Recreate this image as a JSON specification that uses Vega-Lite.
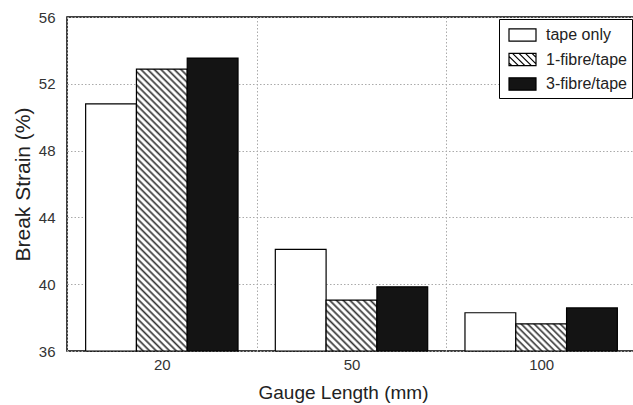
{
  "$schema": "https://vega.github.io/schema/vega-lite/v6.json",
  "width": 569,
  "height": 334,
  "autosize": {"type": "none"},
  "padding": {"left": 67, "top": 17, "right": 0, "bottom": 54},
  "config": {
    "font": "Liberation Sans",
    "view": {"stroke": "black", "strokeWidth": 1.5}
  },
  "data": {
    "values": [
      {"gauge": "20", "series": "tape only", "strain": 50.8},
      {"gauge": "20", "series": "1-fibre/tape", "strain": 52.88},
      {"gauge": "20", "series": "3-fibre/tape", "strain": 53.54},
      {"gauge": "50", "series": "tape only", "strain": 42.09},
      {"gauge": "50", "series": "1-fibre/tape", "strain": 39.05},
      {"gauge": "50", "series": "3-fibre/tape", "strain": 39.84},
      {"gauge": "100", "series": "tape only", "strain": 38.29},
      {"gauge": "100", "series": "1-fibre/tape", "strain": 37.63},
      {"gauge": "100", "series": "3-fibre/tape", "strain": 38.58}
    ]
  },
  "encoding": {
    "x": {
      "field": "gauge", "type": "nominal", "sort": ["20", "50", "100"],
      "scale": {"paddingInner": 0, "paddingOuter": 0},
      "axis": {
        "title": "Gauge Length (mm)", "titleFontSize": 19, "titleFontWeight": "normal", "titleColor": "#222", "titlePadding": 11,
        "titleX": 276, "titleAlign": "center",
        "labelAngle": 0, "labelFontSize": 15, "labelColor": "#333", "labelPadding": 6,
        "ticks": false, "domain": false, "tickBand": "extent",
        "grid": true, "gridColor": "#aaa", "gridDash": [1.5, 2], "gridWidth": 1
      }
    },
    "xOffset": {
      "field": "series", "type": "nominal",
      "scale": {"domain": ["tape only", "1-fibre/tape", "3-fibre/tape"], "paddingInner": 0, "paddingOuter": 0.367}
    },
    "y": {
      "field": "strain", "type": "quantitative",
      "scale": {"domain": [36, 56], "nice": false, "zero": false},
      "axis": {
        "title": "Break Strain (%)", "titleFontSize": 21, "titleFontWeight": "normal", "titleColor": "#222", "titlePadding": 5,
        "values": [36, 40, 44, 48, 52, 56], "labelFontSize": 15, "labelColor": "#333", "labelPadding": 12,
        "ticks": false, "domain": false,
        "grid": true, "gridColor": "#aaa", "gridDash": [1.5, 2], "gridWidth": 1
      }
    }
  },
  "layer": [
    {
      "mark": {"type": "bar", "stroke": "black", "strokeWidth": 1.2},
      "encoding": {
        "y2": {"datum": 36},
        "fill": {
          "field": "series", "type": "nominal",
          "scale": {"domain": ["tape only", "1-fibre/tape", "3-fibre/tape"], "range": ["#ffffff", "#ffffff", "#141414"]},
          "condition": [
            {
              "test": "datum.gauge === '20' && datum.series === '1-fibre/tape'",
              "value": {
                "gradient": "linear", "x1": 0, "y1": 1, "x2": 0.206, "y2": -0.1431,
                "stops": [
                  {"offset":0,"color":"#333"},{"offset":0.007,"color":"#fff"},{"offset":0.013,"color":"#fff"},
                  {"offset":0.02,"color":"#333"},{"offset":0.027,"color":"#fff"},{"offset":0.033,"color":"#fff"},
                  {"offset":0.04,"color":"#333"},{"offset":0.047,"color":"#fff"},{"offset":0.053,"color":"#fff"},
                  {"offset":0.06,"color":"#333"},{"offset":0.067,"color":"#fff"},{"offset":0.073,"color":"#fff"},
                  {"offset":0.08,"color":"#333"},{"offset":0.087,"color":"#fff"},{"offset":0.093,"color":"#fff"},
                  {"offset":0.1,"color":"#333"},{"offset":0.107,"color":"#fff"},{"offset":0.113,"color":"#fff"},
                  {"offset":0.12,"color":"#333"},{"offset":0.127,"color":"#fff"},{"offset":0.133,"color":"#fff"},
                  {"offset":0.14,"color":"#333"},{"offset":0.147,"color":"#fff"},{"offset":0.153,"color":"#fff"},
                  {"offset":0.16,"color":"#333"},{"offset":0.167,"color":"#fff"},{"offset":0.173,"color":"#fff"},
                  {"offset":0.18,"color":"#333"},{"offset":0.187,"color":"#fff"},{"offset":0.193,"color":"#fff"},
                  {"offset":0.2,"color":"#333"},{"offset":0.207,"color":"#fff"},{"offset":0.213,"color":"#fff"},
                  {"offset":0.22,"color":"#333"},{"offset":0.227,"color":"#fff"},{"offset":0.233,"color":"#fff"},
                  {"offset":0.24,"color":"#333"},{"offset":0.247,"color":"#fff"},{"offset":0.253,"color":"#fff"},
                  {"offset":0.26,"color":"#333"},{"offset":0.267,"color":"#fff"},{"offset":0.273,"color":"#fff"},
                  {"offset":0.28,"color":"#333"},{"offset":0.287,"color":"#fff"},{"offset":0.293,"color":"#fff"},
                  {"offset":0.3,"color":"#333"},{"offset":0.307,"color":"#fff"},{"offset":0.313,"color":"#fff"},
                  {"offset":0.32,"color":"#333"},{"offset":0.327,"color":"#fff"},{"offset":0.333,"color":"#fff"},
                  {"offset":0.34,"color":"#333"},{"offset":0.347,"color":"#fff"},{"offset":0.353,"color":"#fff"},
                  {"offset":0.36,"color":"#333"},{"offset":0.367,"color":"#fff"},{"offset":0.373,"color":"#fff"},
                  {"offset":0.38,"color":"#333"},{"offset":0.387,"color":"#fff"},{"offset":0.393,"color":"#fff"},
                  {"offset":0.4,"color":"#333"},{"offset":0.407,"color":"#fff"},{"offset":0.413,"color":"#fff"},
                  {"offset":0.42,"color":"#333"},{"offset":0.427,"color":"#fff"},{"offset":0.433,"color":"#fff"},
                  {"offset":0.44,"color":"#333"},{"offset":0.447,"color":"#fff"},{"offset":0.453,"color":"#fff"},
                  {"offset":0.46,"color":"#333"},{"offset":0.467,"color":"#fff"},{"offset":0.473,"color":"#fff"},
                  {"offset":0.48,"color":"#333"},{"offset":0.487,"color":"#fff"},{"offset":0.493,"color":"#fff"},
                  {"offset":0.5,"color":"#333"},{"offset":0.507,"color":"#fff"},{"offset":0.513,"color":"#fff"},
                  {"offset":0.52,"color":"#333"},{"offset":0.527,"color":"#fff"},{"offset":0.533,"color":"#fff"},
                  {"offset":0.54,"color":"#333"},{"offset":0.547,"color":"#fff"},{"offset":0.553,"color":"#fff"},
                  {"offset":0.56,"color":"#333"},{"offset":0.567,"color":"#fff"},{"offset":0.573,"color":"#fff"},
                  {"offset":0.58,"color":"#333"},{"offset":0.587,"color":"#fff"},{"offset":0.593,"color":"#fff"},
                  {"offset":0.6,"color":"#333"},{"offset":0.607,"color":"#fff"},{"offset":0.613,"color":"#fff"},
                  {"offset":0.62,"color":"#333"},{"offset":0.627,"color":"#fff"},{"offset":0.633,"color":"#fff"},
                  {"offset":0.64,"color":"#333"},{"offset":0.647,"color":"#fff"},{"offset":0.653,"color":"#fff"},
                  {"offset":0.66,"color":"#333"},{"offset":0.667,"color":"#fff"},{"offset":0.673,"color":"#fff"},
                  {"offset":0.68,"color":"#333"},{"offset":0.687,"color":"#fff"},{"offset":0.693,"color":"#fff"},
                  {"offset":0.7,"color":"#333"},{"offset":0.707,"color":"#fff"},{"offset":0.713,"color":"#fff"},
                  {"offset":0.72,"color":"#333"},{"offset":0.727,"color":"#fff"},{"offset":0.733,"color":"#fff"},
                  {"offset":0.74,"color":"#333"},{"offset":0.747,"color":"#fff"},{"offset":0.753,"color":"#fff"},
                  {"offset":0.76,"color":"#333"},{"offset":0.767,"color":"#fff"},{"offset":0.773,"color":"#fff"},
                  {"offset":0.78,"color":"#333"},{"offset":0.787,"color":"#fff"},{"offset":0.793,"color":"#fff"},
                  {"offset":0.8,"color":"#333"},{"offset":0.807,"color":"#fff"},{"offset":0.813,"color":"#fff"},
                  {"offset":0.82,"color":"#333"},{"offset":0.827,"color":"#fff"},{"offset":0.833,"color":"#fff"},
                  {"offset":0.84,"color":"#333"},{"offset":0.847,"color":"#fff"},{"offset":0.853,"color":"#fff"},
                  {"offset":0.86,"color":"#333"},{"offset":0.867,"color":"#fff"},{"offset":0.873,"color":"#fff"},
                  {"offset":0.88,"color":"#333"},{"offset":0.887,"color":"#fff"},{"offset":0.893,"color":"#fff"},
                  {"offset":0.9,"color":"#333"},{"offset":0.907,"color":"#fff"},{"offset":0.913,"color":"#fff"},
                  {"offset":0.92,"color":"#333"},{"offset":0.927,"color":"#fff"},{"offset":0.933,"color":"#fff"},
                  {"offset":0.94,"color":"#333"},{"offset":0.947,"color":"#fff"},{"offset":0.953,"color":"#fff"},
                  {"offset":0.96,"color":"#333"},{"offset":0.967,"color":"#fff"},{"offset":0.973,"color":"#fff"},
                  {"offset":0.98,"color":"#333"},{"offset":0.987,"color":"#fff"},{"offset":0.993,"color":"#fff"},
                  {"offset":1,"color":"#333"}
                ]
              }
            },
            {
              "test": "datum.gauge === '50' && datum.series === '1-fibre/tape'",
              "value": {
                "gradient": "linear", "x1": 0, "y1": 1, "x2": 0.999, "y2": -0.001,
                "stops": [
                  {"offset":0,"color":"#333"},{"offset":0.0233,"color":"#fff"},{"offset":0.0433,"color":"#fff"},
                  {"offset":0.0667,"color":"#333"},{"offset":0.09,"color":"#fff"},{"offset":0.11,"color":"#fff"},
                  {"offset":0.1333,"color":"#333"},{"offset":0.1567,"color":"#fff"},{"offset":0.1767,"color":"#fff"},
                  {"offset":0.2,"color":"#333"},{"offset":0.2233,"color":"#fff"},{"offset":0.2433,"color":"#fff"},
                  {"offset":0.2667,"color":"#333"},{"offset":0.29,"color":"#fff"},{"offset":0.31,"color":"#fff"},
                  {"offset":0.3333,"color":"#333"},{"offset":0.3567,"color":"#fff"},{"offset":0.3767,"color":"#fff"},
                  {"offset":0.4,"color":"#333"},{"offset":0.4233,"color":"#fff"},{"offset":0.4433,"color":"#fff"},
                  {"offset":0.4667,"color":"#333"},{"offset":0.49,"color":"#fff"},{"offset":0.51,"color":"#fff"},
                  {"offset":0.5333,"color":"#333"},{"offset":0.5567,"color":"#fff"},{"offset":0.5767,"color":"#fff"},
                  {"offset":0.6,"color":"#333"},{"offset":0.6233,"color":"#fff"},{"offset":0.6433,"color":"#fff"},
                  {"offset":0.6667,"color":"#333"},{"offset":0.69,"color":"#fff"},{"offset":0.71,"color":"#fff"},
                  {"offset":0.7333,"color":"#333"},{"offset":0.7567,"color":"#fff"},{"offset":0.7767,"color":"#fff"},
                  {"offset":0.8,"color":"#333"},{"offset":0.8233,"color":"#fff"},{"offset":0.8433,"color":"#fff"},
                  {"offset":0.8667,"color":"#333"},{"offset":0.89,"color":"#fff"},{"offset":0.91,"color":"#fff"},
                  {"offset":0.9333,"color":"#333"},{"offset":0.9567,"color":"#fff"},{"offset":0.9767,"color":"#fff"},
                  {"offset":1,"color":"#333"}
                ]
              }
            },
            {
              "test": "datum.gauge === '100' && datum.series === '1-fibre/tape'",
              "value": {
                "gradient": "linear", "x1": 0, "y1": 1, "x2": 1.1933, "y2": 0.361,
                "stops": [
                  {"offset":0,"color":"#333"},{"offset":0.0292,"color":"#fff"},{"offset":0.0542,"color":"#fff"},
                  {"offset":0.0833,"color":"#333"},{"offset":0.1125,"color":"#fff"},{"offset":0.1375,"color":"#fff"},
                  {"offset":0.1667,"color":"#333"},{"offset":0.1958,"color":"#fff"},{"offset":0.2208,"color":"#fff"},
                  {"offset":0.25,"color":"#333"},{"offset":0.2792,"color":"#fff"},{"offset":0.3042,"color":"#fff"},
                  {"offset":0.3333,"color":"#333"},{"offset":0.3625,"color":"#fff"},{"offset":0.3875,"color":"#fff"},
                  {"offset":0.4167,"color":"#333"},{"offset":0.4458,"color":"#fff"},{"offset":0.4708,"color":"#fff"},
                  {"offset":0.5,"color":"#333"},{"offset":0.5292,"color":"#fff"},{"offset":0.5542,"color":"#fff"},
                  {"offset":0.5833,"color":"#333"},{"offset":0.6125,"color":"#fff"},{"offset":0.6375,"color":"#fff"},
                  {"offset":0.6667,"color":"#333"},{"offset":0.6958,"color":"#fff"},{"offset":0.7208,"color":"#fff"},
                  {"offset":0.75,"color":"#333"},{"offset":0.7792,"color":"#fff"},{"offset":0.8042,"color":"#fff"},
                  {"offset":0.8333,"color":"#333"},{"offset":0.8625,"color":"#fff"},{"offset":0.8875,"color":"#fff"},
                  {"offset":0.9167,"color":"#333"},{"offset":0.9458,"color":"#fff"},{"offset":0.9708,"color":"#fff"},
                  {"offset":1,"color":"#333"}
                ]
              }
            }
          ],
          "legend": {
            "orient": "none", "legendX": 432, "legendY": 2, "title": null,
            "symbolSize": 400,
            "symbolStrokeColor": "black", "symbolStrokeWidth": 1.2, "symbolOpacity": 1,
            "labelFontSize": 16, "labelColor": "#222", "labelOffset": 20,
            "padding": 5, "rowPadding": 4.5,
            "strokeColor": "black", "fillColor": "white"
          }
        }
      }
    },
    {
      "mark": {"type": "point", "opacity": 0, "size": 400},
      "encoding": {
        "shape": {
          "field": "series", "type": "nominal",
          "scale": {
            "domain": ["tape only", "1-fibre/tape", "3-fibre/tape"],
            "range": [
              "M-0.6,-0.62H2.1V0.62H-0.6Z",
              "M-0.6,-0.62H2.1V0.62H-0.6Z M-0.6,0.33L-0.31,0.62 M-0.6,-0.32L0.34,0.62 M-0.25,-0.62L0.99,0.62 M0.4,-0.62L1.64,0.62 M1.05,-0.62L2.1,0.43 M1.7,-0.62L2.1,-0.22",
              "M-0.6,-0.62H2.1V0.62H-0.6Z"
            ]
          },
          "legend": {
            "orient": "none", "legendX": 432, "legendY": 2, "title": null,
            "symbolSize": 400,
            "symbolStrokeColor": "black", "symbolStrokeWidth": 1.2, "symbolOpacity": 1,
            "labelFontSize": 16, "labelColor": "#222", "labelOffset": 20,
            "padding": 5, "rowPadding": 4.5,
            "strokeColor": "black", "fillColor": "white"
          }
        }
      }
    }
  ]
}
